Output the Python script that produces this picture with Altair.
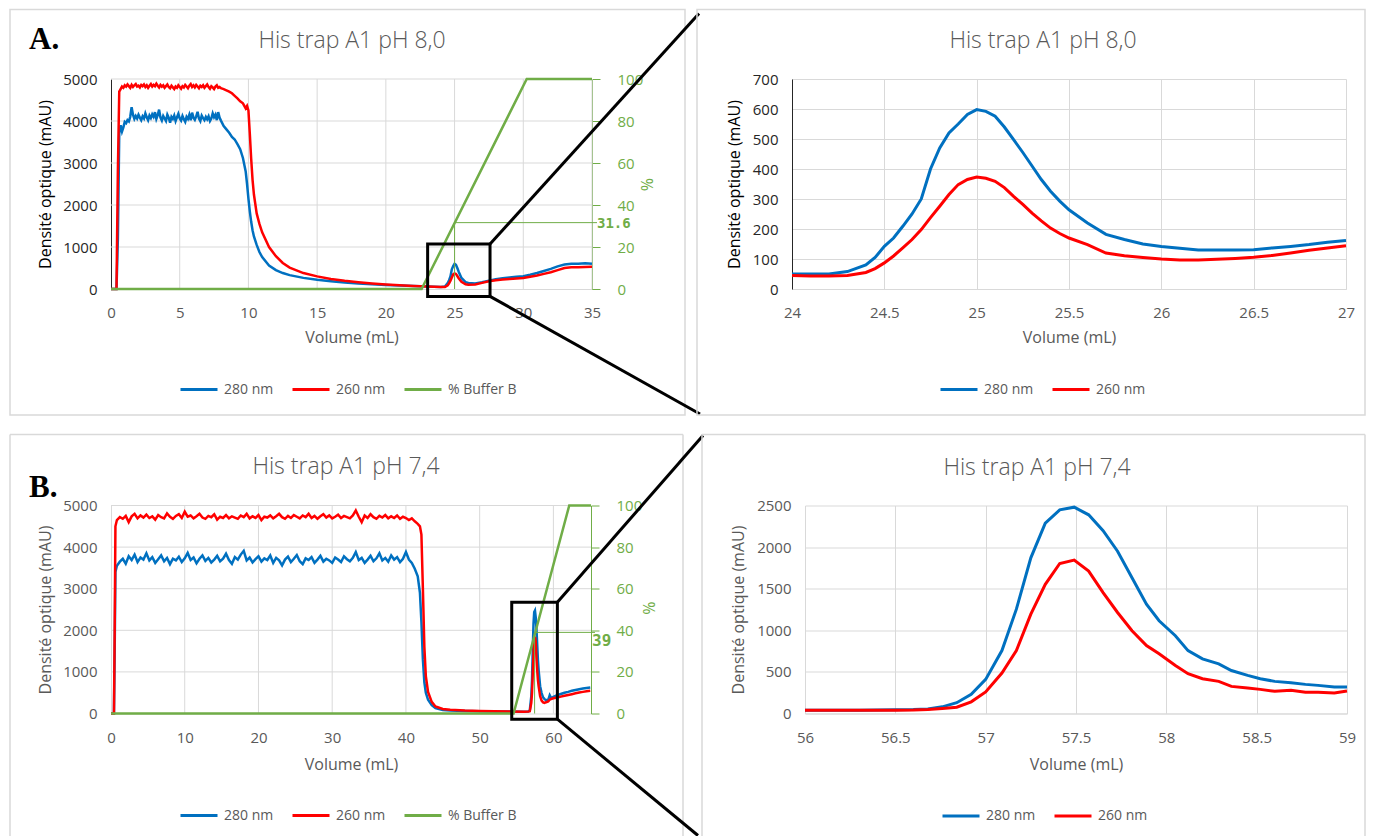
import altair as alt
import pandas as pd

# ---------------------------------------------------------------- data
# Panel A (overview, pH 8,0): shared volume grid, 280 nm and 260 nm traces
A_vol = [0, 0.4, 0.5, 0.6, 0.7, 0.8, 0.9,
         1.0, 1.1, 1.2, 1.3, 1.4, 1.5, 1.6, 1.7, 1.8, 1.9,
         2.0, 2.1, 2.2, 2.3, 2.4, 2.5, 2.6, 2.7, 2.8, 2.9,
         3.0, 3.1, 3.2, 3.3, 3.4, 3.5, 3.6, 3.7, 3.8, 3.9,
         4.0, 4.1, 4.2, 4.3, 4.4, 4.5, 4.6, 4.7, 4.8, 4.9,
         5.0, 5.1, 5.2, 5.3, 5.4, 5.5, 5.6, 5.7, 5.8, 5.9,
         6.0, 6.1, 6.2, 6.3, 6.4, 6.5, 6.6, 6.7, 6.8, 6.9,
         7.0, 7.1, 7.2, 7.3, 7.4, 7.5, 7.6, 7.7, 7.8, 7.9,
         8.0,
         8.2, 8.4, 8.6, 8.8, 9.0, 9.2, 9.4, 9.6, 9.8,
         9.9, 10.0, 10.1, 10.2, 10.3, 10.4,
         10.6, 10.8, 11.0, 11.5, 12.0, 12.5, 13.0,
         14, 15, 16, 17, 18, 19, 20, 21, 22, 23, 24,
         24.3, 24.5, 24.6, 24.7, 24.8, 24.9, 25.0, 25.1, 25.2, 25.3,
         25.5, 25.8, 26.0, 26.5,
         27.0, 27.5, 28.0, 28.5, 29.0, 29.5, 30.0, 30.5, 31.0, 31.5, 32.0, 32.5, 33.0, 33.5, 34.0, 34.5, 35.0]
A_280 = [0, 0, 1200, 3700, 3900, 3750, 3850,
         3980, 3950, 4020, 3990, 4100, 4330, 4150, 4050, 4120, 4060,
         4150, 4080, 4020, 4110, 4060, 4180, 4090, 4020, 4130, 4070,
         4160, 4100, 4210, 4050, 4140, 4270, 4080, 4010, 4120, 4060,
         4000, 4150, 4080, 3960, 4100, 4050, 4130, 4000, 4090, 4170,
         4060, 4010, 4120, 4040, 3980, 4100, 4050, 4150, 4020, 4200,
         4080, 4030, 4110, 4220, 4060, 4000, 4130, 4070, 4020, 4100,
         4040, 4110, 4000, 4060, 4180, 4090, 4150, 4020, 4210, 4080,
         4010,
         3880, 3800, 3720, 3620, 3560, 3450, 3330, 3120, 2800,
         2500, 2150, 1850, 1600, 1400, 1250,
         1050, 880, 760, 560, 450, 380, 330,
         265, 220, 185, 155, 130, 112, 95, 82, 70, 58, 50,
         58, 142, 209, 298, 470, 545, 598, 576, 498, 410,
         264, 165, 142, 133,
         162, 200, 230, 255, 275, 290, 305, 340, 380, 430, 480, 540, 585, 600, 600, 615, 600]
A_260 = [0, 0, 2800, 4700, 4760, 4820, 4790,
         4850, 4820, 4870, 4830, 4790, 4860, 4810, 4850, 4880, 4820,
         4840, 4800, 4860, 4830, 4870, 4810, 4850, 4790, 4840, 4880,
         4820, 4860, 4830, 4890, 4840, 4800, 4860, 4820, 4850, 4790,
         4830, 4870, 4810, 4780, 4840, 4800, 4760, 4820, 4790, 4850,
         4810, 4770, 4830, 4800, 4860, 4820, 4780, 4840, 4880, 4810,
         4850, 4800, 4860, 4820, 4780, 4840, 4810, 4850, 4790, 4830,
         4870, 4810, 4770, 4830, 4800, 4760, 4820, 4850, 4790, 4810,
         4780,
         4760, 4730, 4700, 4660, 4600, 4540, 4470, 4420, 4300,
         4360, 4250, 3700, 3100, 2600, 2250,
         1800, 1550, 1350, 1000, 780, 620, 510,
         380, 300, 240, 195, 160, 132, 110, 90, 72, 58, 46,
         45, 87, 137, 198, 276, 348, 373, 359, 309, 253,
         170, 111, 103, 108,
         146, 185, 210, 225, 240, 250, 262, 290, 320, 360, 400, 450, 500, 515, 515, 525, 530]
A_buf_vol = [0, 22.6, 30.25, 35]
A_buf_pct = [0, 0, 100, 100]
A_mark_vol, A_mark_pct, A_mark_text = 25, 31.6, "31.6"
A_box = [23.04, 27.58, -176, 1071]          # zoom frame: vol from/to, mAU from/to

# Panel A zoom (24-27 mL)
AZ_vol = [24.0, 24.1, 24.2, 24.3, 24.4,
          24.45, 24.5, 24.55, 24.6, 24.65, 24.7, 24.75, 24.8, 24.85, 24.9, 24.95,
          25.0, 25.05, 25.1, 25.15, 25.2, 25.25, 25.3, 25.35, 25.4, 25.45, 25.5,
          25.6, 25.7, 25.8, 25.9, 26.0, 26.1, 26.2, 26.3, 26.4, 26.5, 26.6, 26.7, 26.8, 26.9, 27.0]
AZ_280 = [50, 50, 50, 58, 80,
          105, 142, 170, 209, 250, 300, 400, 470, 520, 550, 582,
          598, 592, 576, 540, 498, 455, 410, 365, 326, 293, 264,
          220, 182, 165, 150, 142, 136, 130, 130, 130, 131, 137, 142, 148, 156, 162]
AZ_260 = [45, 43, 43, 45, 55,
          68, 87, 110, 137, 165, 198, 238, 276, 315, 348, 365,
          373, 369, 359, 338, 309, 282, 253, 227, 203, 185, 170,
          148, 120, 111, 105, 100, 97, 97, 99, 102, 106, 112, 120, 129, 137, 144]

# Panel B (overview, pH 7,4)
B_vol = [0, 0.4, 0.5, 0.6, 0.8,
         1.2, 1.6, 2.0, 2.4, 2.8, 3.2, 3.6, 4.0, 4.4, 4.8,
         5.2, 5.6, 6.0, 6.4, 6.8, 7.2, 7.6, 8.0, 8.4, 8.8,
         9.2, 9.6, 10.0, 10.4, 10.8, 11.2, 11.6, 12.0, 12.4, 12.8,
         13.2, 13.6, 14.0, 14.4, 14.8, 15.2, 15.6, 16.0, 16.4, 16.8,
         17.2, 17.6, 18.0, 18.4, 18.8, 19.2, 19.6, 20.0, 20.4, 20.8,
         21.2, 21.6, 22.0, 22.4, 22.8, 23.2, 23.6, 24.0, 24.4, 24.8,
         25.2, 25.6, 26.0, 26.4, 26.8, 27.2, 27.6, 28.0, 28.4, 28.8,
         29.2, 29.6, 30.0, 30.4, 30.8, 31.2, 31.6, 32.0, 32.4, 32.8,
         33.2, 33.6, 34.0, 34.4, 34.8, 35.2, 35.6, 36.0, 36.4, 36.8,
         37.2, 37.6, 38.0, 38.4, 38.8, 39.2, 39.6, 40.0, 40.4, 40.8,
         41.2, 41.6, 41.9, 42.1, 42.3, 42.5, 42.7, 43.0, 43.5, 44.0, 45.0, 46.0, 48.0, 50.0, 52.0, 54.0, 56.0,
         56.6, 56.8, 57.0, 57.1, 57.2, 57.3, 57.4, 57.5, 57.6, 57.7, 57.8, 57.9, 58.0, 58.2, 58.4, 58.6, 58.8, 59.0,
         59.3, 59.5, 59.7, 60.0, 60.5, 61.0, 61.5, 62.0, 62.5, 63.0, 63.5, 64.0, 64.5, 65.0]
B_280 = [0, 0, 1500, 3400, 3550,
         3650, 3720, 3600, 3780, 3690, 3820, 3640, 3750, 3700, 3850,
         3680, 3760, 3620, 3710, 3800, 3660, 3740, 3590, 3720, 3680,
         3770, 3640, 3730, 3860, 3690, 3750, 3610, 3720, 3800, 3670,
         3740, 3630, 3700, 3790, 3660, 3720, 3840, 3690, 3600, 3760,
         3700, 3820, 3910, 3680, 3750, 3630, 3710, 3780, 3650, 3730,
         3690, 3800, 3620, 3740, 3680, 3560, 3700, 3770, 3640, 3720,
         3810, 3660, 3590, 3730, 3690, 3760, 3620, 3700, 3790, 3650,
         3720, 3680, 3620, 3750, 3700, 3640, 3780, 3710, 3660, 3740,
         3880, 3690, 3740, 3620, 3700, 3790, 3660, 3730, 3850, 3680,
         3740, 3650, 3800, 3700, 3760, 3640, 3720, 3880, 3700, 3620,
         3480, 3300, 2900, 2200, 1300, 750, 500, 330, 200, 130, 85, 70, 58, 52, 50, 50, 45,
         50, 75, 410, 800, 1500, 2150, 2440, 2475, 2320, 2050, 1670, 1290, 1035, 656, 490, 386, 345, 318,
         330, 440, 370, 400, 440, 470, 500, 520, 545, 565, 585, 600, 615, 625]
B_260 = [0, 0, 2000, 4500, 4650,
         4720, 4680, 4750, 4600, 4740, 4800, 4690, 4760, 4710, 4780,
         4700, 4740, 4660, 4770, 4720, 4690, 4810, 4730, 4680, 4750,
         4790, 4700, 4850, 4730, 4760, 4690, 4740, 4800, 4710, 4680,
         4750, 4720, 4790, 4660, 4730, 4700, 4770, 4690, 4740, 4710,
         4680, 4760, 4720, 4800, 4690, 4740, 4700, 4770, 4650, 4730,
         4710, 4760, 4690, 4740, 4800, 4720, 4680, 4750, 4700, 4770,
         4730, 4690, 4760, 4720, 4800, 4700, 4750, 4680, 4740, 4790,
         4710, 4760, 4690, 4730, 4780, 4700, 4750, 4720, 4690, 4760,
         4880, 4730, 4600, 4760, 4700, 4790, 4720, 4680, 4750, 4710,
         4770, 4690, 4740, 4700, 4760, 4680, 4730, 4700, 4650, 4690,
         4620, 4560, 4500, 4300, 3000, 1600, 900, 520, 280, 170, 110, 90, 70, 60, 55, 50, 42,
         45, 55, 259, 500, 950, 1420, 1790, 1843, 1740, 1340, 1050, 810, 650, 418, 310, 267, 255, 271,
         290, 330, 350, 365, 385, 405, 425, 445, 465, 485, 505, 520, 535, 545]
B_buf_vol = [0, 54.6, 62.15, 65.1]
B_buf_pct = [0, 0, 100, 100]
B_mark_vol, B_mark_pct, B_mark_text = 57.45, 39, "39"
B_box = [54.35, 60.54, -137, 2676]

# Panel B zoom (56-59 mL)
BZ_vol = [56.0, 56.1, 56.2, 56.3, 56.4, 56.5, 56.6, 56.68, 56.76, 56.84,
          56.92, 57.0, 57.09, 57.17, 57.25, 57.33, 57.41, 57.49, 57.57, 57.65,
          57.73, 57.81, 57.89, 57.96, 58.05, 58.12, 58.2, 58.29, 58.36, 58.45,
          58.52, 58.6, 58.69, 58.77, 58.84, 58.93, 59.0]
BZ_280 = [40, 40, 40, 40, 42, 45, 48, 55, 80, 130,
          230, 410, 756, 1254, 1871, 2289, 2448, 2480, 2388, 2197,
          1950, 1632, 1313, 1115, 935, 756, 656, 597, 517, 458,
          418, 386, 370, 350, 338, 318, 318]
BZ_260 = [40, 40, 40, 40, 40, 40, 42, 48, 60, 75,
          140, 259, 486, 756, 1195, 1553, 1803, 1843, 1712, 1453,
          1214, 995, 816, 717, 577, 478, 418, 386, 326, 306,
          290, 267, 279, 255, 255, 247, 271]

# axis ticks / labels
A_xticks = [0, 5, 10, 15, 20, 25, 30, 35]
B_xticks = [0, 10, 20, 30, 40, 50, 60]
OV_yticks = [0, 1000, 2000, 3000, 4000, 5000]
PCT_ticks = [0, 20, 40, 60, 80, 100]
AZ_xticks = [24, 24.5, 25, 25.5, 26, 26.5, 27]
AZ_yticks = [0, 100, 200, 300, 400, 500, 600, 700]
BZ_xticks = [56, 56.5, 57, 57.5, 58, 58.5, 59]
BZ_yticks = [0, 500, 1000, 1500, 2000, 2500]

SERIES = ["280 nm", "260 nm", "% Buffer B"]

# ---------------------------------------------------------------- style
FONT = "Open Sans"
MONO = "DejaVu Sans Mono"
SERIF = "Liberation Serif"
BLUE, RED, GREEN = "#0070C0", "#FF0000", "#70AD47"
GRID, GREY = "#D9D9D9", "#595959"
NUM = ".6~g"
TICK_FS = 15
ONE = pd.DataFrame({"k": [0]})


def trace_df(vol, y280, y260):
    n = min(len(vol), len(y280), len(y260))
    return pd.DataFrame({"vol": list(vol[:n]) + list(vol[:n]),
                         "val": list(y280[:n]) + list(y260[:n]),
                         "series": [SERIES[0]] * n + [SERIES[1]] * n})


def legend(lx, ly):
    return alt.Legend(title=None, orient="none", legendX=lx, legendY=ly, direction="horizontal",
                      symbolType="stroke", symbolSize=1369, symbolStrokeWidth=3,
                      labelFont=FONT, labelFontSize=14, labelColor=GREY, labelOffset=5,
                      columnPadding=12, padding=0)


def x_axis(vals, pad, title_y, grid):
    return alt.Axis(values=vals, format=NUM, title="Volume (mL)", grid=grid, gridColor=GRID,
                    domainColor=GRID, ticks=False, tickSize=0, labelPadding=pad, labelFlush=False,
                    labelOverlap=False, labelFont=FONT, labelFontSize=TICK_FS, labelColor=GREY,
                    titleFont=FONT, titleFontSize=16, titleFontWeight="normal", titleColor=GREY,
                    titleY=title_y, titleBaseline="middle")


def y_axis(vals, title_x, title_y, dark, grid):
    return alt.Axis(values=vals, format=NUM, title="Densité optique (mAU)", grid=grid, gridColor=GRID,
                    domainColor=("#262626" if dark else GRID), ticks=False, tickSize=0,
                    labelPadding=14, labelFlush=False, labelOverlap=False, labelFont=FONT,
                    labelFontSize=TICK_FS, labelColor=("#262626" if dark else GREY),
                    titleFont=FONT, titleFontSize=16, titleFontWeight="normal",
                    titleColor=("#000000" if dark else GREY), titleX=title_x, titleY=title_y,
                    titleAngle=270, titleAlign="center", titleBaseline="middle")


def pct_axis(title_x, title_y):
    return alt.Axis(orient="right", values=PCT_ticks, format=NUM, title="%", grid=False,
                    domainColor=GREEN, ticks=True, tickColor=GREEN, tickSize=8, labelPadding=17,
                    labelFlush=False, labelOverlap=False, labelFont=FONT, labelFontSize=TICK_FS,
                    labelColor=GREEN, titleFont=FONT, titleFontSize=16, titleFontWeight="normal",
                    titleColor=GREEN, titleX=title_x, titleY=title_y, titleAngle=90,
                    titleAlign="center", titleBaseline="middle")


def frame(x0, x1, y0, y1, closed):
    if closed:
        return [alt.Chart(ONE).mark_rect(fill="white", fillOpacity=0, stroke=GRID, strokeWidth=1.5).encode(
            x=alt.value(x0), x2=alt.value(x1), y=alt.value(y0), y2=alt.value(y1))]
    rule = dict(color=GRID, strokeWidth=1.5)
    return [alt.Chart(ONE).mark_rule(**rule).encode(x=alt.value(x0), x2=alt.value(x1), y=alt.value(y0)),
            alt.Chart(ONE).mark_rule(**rule).encode(x=alt.value(x0), y=alt.value(y0), y2=alt.value(y1)),
            alt.Chart(ONE).mark_rule(**rule).encode(x=alt.value(x1), y=alt.value(y0), y2=alt.value(y1))]


def title_text(txt, x, y):
    return alt.Chart(ONE).mark_text(text=txt, font=FONT, fontSize=23, fontWeight=300, color=GREY,
                                    align="center", baseline="middle").encode(x=alt.value(x), y=alt.value(y))


def letter(txt, x, y):
    return alt.Chart(ONE).mark_text(text=txt, font=SERIF, fontSize=31, fontWeight="bold", color="#000000",
                                    align="left", baseline="alphabetic").encode(x=alt.value(x), y=alt.value(y))


def overview(c):
    w, h = c["w"], c["h"]
    xs = alt.Scale(domain=[0, c["xmax"]], nice=False, zero=False)
    xax = x_axis(c["xticks"], c["lpad"], c["xty"], False)
    cs = alt.Scale(domain=SERIES, range=[BLUE, RED, GREEN])
    leg = legend(c["lx"], c["ly"])

    def X(field):
        return alt.X(field, scale=xs, axis=xax)

    def ys():
        return alt.Scale(domain=[0, 5000], nice=False, zero=False)

    def ps():
        return alt.Scale(domain=[0, 100], nice=False, zero=False)

    vgrid = alt.Chart(pd.DataFrame({"g": c["xticks"][1:]})).mark_rule(color=GRID, strokeWidth=1).encode(
        x=X("g:Q"))
    hgrid = alt.Chart(pd.DataFrame({"g": OV_yticks[1:]})).mark_rule(color=GRID, strokeWidth=1).encode(
        y=alt.Y("g:Q", scale=ys(), axis=None))

    lines = alt.Chart(trace_df(c["vol"], c["y280"], c["y260"])).mark_line(strokeWidth=2.5).encode(
        x=X("vol:Q"),
        y=alt.Y("val:Q", scale=ys(), axis=y_axis(OV_yticks, -66, h / 2, c["dark"], False)),
        color=alt.Color("series:N", scale=cs, legend=leg))
    bx = c["box"]
    box_df = pd.DataFrame({"x0": [bx[0]], "x1": [bx[1]], "y0": [bx[2]], "y1": [bx[3]]})
    box = alt.Chart(box_df).mark_rect(fill="white", fillOpacity=0, stroke="black", strokeWidth=3).encode(
        x=X("x0:Q"), x2="x1:Q",
        y=alt.Y("y0:Q", scale=ys(), axis=None), y2="y1:Q")
    top = alt.Chart(pd.DataFrame({"x": [bx[1]], "y": [bx[3]]})).mark_rule(color="black", strokeWidth=3).encode(
        x=X("x:Q"), y=alt.Y("y:Q", scale=ys(), axis=None),
        x2=alt.value(c["top_end"][0]), y2=alt.value(c["top_end"][1]))
    bot = alt.Chart(pd.DataFrame({"x": [bx[1]], "y": [bx[2]]})).mark_rule(color="black", strokeWidth=3).encode(
        x=X("x:Q"), y=alt.Y("y:Q", scale=ys(), axis=None),
        x2=alt.value(c["bot_end"][0]), y2=alt.value(c["bot_end"][1]))

    buf_df = pd.DataFrame({"vol": c["buf_vol"], "pct": c["buf_pct"], "series": [SERIES[2]] * len(c["buf_vol"])})
    buf = alt.Chart(buf_df).mark_line(strokeWidth=2.5).encode(
        x=X("vol:Q"),
        y=alt.Y("pct:Q", scale=ps(), axis=pct_axis(c["pct_tx"], c["pct_ty"])),
        color=alt.Color("series:N", scale=cs, legend=leg))
    mk = pd.DataFrame({"vol": [c["mark_vol"]], "pct": [c["mark_pct"]], "zero": [0]})
    mh = alt.Chart(mk).mark_rule(color=GREEN, strokeWidth=1).encode(
        x=X("vol:Q"), x2=alt.value(c["mark_x2"]),
        y=alt.Y("pct:Q", scale=ps(), axis=None))
    mv = alt.Chart(mk).mark_rule(color=GREEN, strokeWidth=1).encode(
        x=X("vol:Q"),
        y=alt.Y("zero:Q", scale=ps(), axis=None), y2="pct:Q")
    mt = alt.Chart(mk).mark_text(text=c["mark_text"], font=MONO, fontWeight="bold", fontSize=c["mark_size"],
                                 color=GREEN, align="left", baseline="middle", dy=c["mark_dy"]).encode(
        x=alt.value(c["mark_tx"]), y=alt.Y("pct:Q", scale=ps(), axis=None))

    layers = frame(*c["frame"], c["closed"]) + [
        title_text(c["title"], *c["title_xy"]), letter(c["letter"], *c["letter_xy"]),
        vgrid, hgrid, lines, buf, mh, mv, mt, box, top, bot]
    return alt.layer(*layers).resolve_scale(y="independent").properties(width=w, height=h)


def zoom(c):
    w, h = c["w"], c["h"]
    xs = alt.Scale(domain=c["xdom"], nice=False, zero=False)
    ys = alt.Scale(domain=c["ydom"], nice=False, zero=False)
    cs = alt.Scale(domain=SERIES[:2], range=[BLUE, RED])
    lines = alt.Chart(trace_df(c["vol"], c["y280"], c["y260"])).mark_line(strokeWidth=3).encode(
        x=alt.X("vol:Q", scale=xs, axis=x_axis(c["xticks"], c["lpad"], c["xty"], True)),
        y=alt.Y("val:Q", scale=ys, axis=y_axis(c["yticks"], c["ytx"], h / 2, c["dark"], True)),
        color=alt.Color("series:N", scale=cs, legend=legend(c["lx"], c["ly"])))
    layers = frame(*c["frame"], c["closed"]) + [title_text(c["title"], *c["title_xy"]), lines]
    return alt.layer(*layers).properties(width=w, height=h)


A_left = overview(dict(
    w=481, h=210, xmax=35, xticks=A_xticks, lpad=16, xty=48.5, lx=68, ly=290.5, dark=True,
    vol=A_vol, y280=A_280, y260=A_260, buf_vol=A_buf_vol, buf_pct=A_buf_pct,
    box=A_box, top_end=(588, -65.5), bot_end=(589, 335),
    mark_vol=A_mark_vol, mark_pct=A_mark_pct, mark_text=A_mark_text, mark_x2=486, mark_tx=486,
    mark_dy=1, mark_size=14, pct_tx=53, pct_ty=105,
    frame=(-101, 574, -69.5, 336), closed=True,
    title="His trap A1 pH 8,0", title_xy=(241, -38), letter="A.", letter_xy=(-82, -30)))

A_right = zoom(dict(
    w=554, h=210, xdom=[24, 27], ydom=[0, 700], xticks=AZ_xticks, yticks=AZ_yticks, lpad=16, xty=48.5,
    ytx=-58, dark=True, lx=147, ly=290.5,
    vol=AZ_vol, y280=AZ_280, y260=AZ_260,
    frame=(-95, 573, -69.5, 336), closed=True,
    title="His trap A1 pH 8,0", title_xy=(251, -38)))

B_left = overview(dict(
    w=480, h=208, xmax=65.1, xticks=B_xticks, lpad=17, xty=51, lx=68, ly=290, dark=False,
    vol=B_vol, y280=B_280, y260=B_260, buf_vol=B_buf_vol, buf_pct=B_buf_pct,
    box=B_box, top_end=(592, -70), bot_end=(587, 330),
    mark_vol=B_mark_vol, mark_pct=B_mark_pct, mark_text=B_mark_text, mark_x2=484, mark_tx=481,
    mark_dy=9, mark_size=16, pct_tx=56, pct_ty=102,
    frame=(-101, 572, -71, 336), closed=False,
    title="His trap A1 pH 7,4", title_xy=(235, -39), letter="B.", letter_xy=(-82, -9)))

B_right = zoom(dict(
    w=542, h=208, xdom=[56, 59], ydom=[0, 2500], xticks=BZ_xticks, yticks=BZ_yticks, lpad=17, xty=50.5,
    ytx=-67, dark=False, lx=136, ly=290.5,
    vol=BZ_vol, y280=BZ_280, y260=BZ_260,
    frame=(-103, 560, -71, 336), closed=False,
    title="His trap A1 pH 7,4", title_xy=(232, -37.5)))

row_a = alt.hconcat(A_left, A_right, spacing=200, bounds="flush").resolve_scale(color="independent")
row_b = alt.hconcat(B_left, B_right, spacing=214, bounds="flush").resolve_scale(color="independent")
chart = (alt.vconcat(row_a, row_b, spacing=15.5)
         .resolve_scale(color="independent")
         .properties(padding=0, background="white")
         .configure_view(stroke="transparent"))

chart.save("out.html", embed_options={"renderer": "svg", "actions": False})
